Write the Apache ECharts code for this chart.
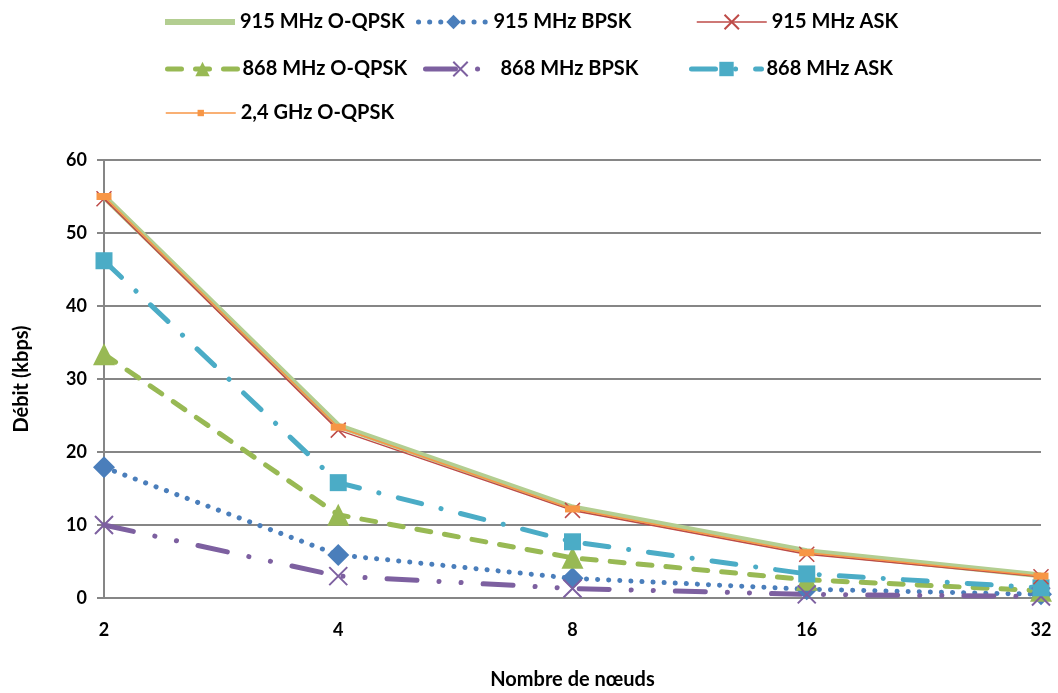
<!DOCTYPE html>
<html>
<head>
<meta charset="utf-8">
<script src="https://cdn.jsdelivr.net/npm/echarts@6/dist/echarts.min.js"></script>
<style>
  html, body { margin: 0; padding: 0; background: #fff; }
  #chart { width: 1058px; height: 693px; }
</style>
</head>
<body>
<div id="chart"></div>
<script>
const nodes = ['2', '4', '8', '16', '32']
const seriesNames = ['915 MHz O-QPSK', '915 MHz BPSK', '915 MHz ASK', '868 MHz O-QPSK', '868 MHz BPSK', '868 MHz ASK', '2,4 GHz O-QPSK']
const qpsk915 = [55, 23.6, 12.4, 6.4, 3.1]
const bpsk915 = [17.9, 5.9, 2.7, 1.2, 0.5]
const ask915 = [54.7, 23.0, 12.0, 6.0, 2.9]
const qpsk868 = [33.4, 11.4, 5.5, 2.5, 1.0]
const bpsk868 = [10.0, 3.0, 1.3, 0.5, 0.2]
const ask868 = [46.2, 15.8, 7.7, 3.3, 1.4]
const qpsk24 = [55, 23.4, 12.2, 6.2, 3.0]

const font = 'Lato, "Open Sans", sans-serif'
const crossPath = 'path://M0,0L10,10M10,0L0,10'

const chart = echarts.init(document.getElementById('chart'))

// one legend per entry so the three columns line up like the original
const legendPos = [
    [160, 7], [411, 7], [691, 7],
    [160, 54], [418, 54], [684, 54],
    [160, 98]
]
const legendLineWidth = [6, 5, 1.5, 5, 5, 5, 1.5]
const legendItemHeight = [6, 18, 18, 18, 18, 18, 8]
const legends = seriesNames.map((name, i) => ({
    data: i === 0 ? [{ name: name, icon: 'rect' }] : [name],
    left: legendPos[i][0],
    top: legendPos[i][1],
    itemWidth: 70,
    itemHeight: legendItemHeight[i],
    itemGap: 0,
    lineStyle: { width: legendLineWidth[i] },
    textStyle: { fontFamily: font, fontWeight: 'bold', fontSize: 20, color: '#000' },
    selectedMode: false
}))

const options = {
    animation: false,
    legend: legends,
    grid: { left: 104, right: 17, top: 160, bottom: 95, outerBoundsMode: 'none' },
    xAxis: {
        type: 'category',
        data: nodes,
        boundaryGap: false,
        name: 'Nombre de nœuds',
        nameLocation: 'middle',
        nameGap: 72,
        nameTextStyle: { fontFamily: font, fontWeight: 'bold', fontSize: 20, color: '#000' },
        axisLine: { lineStyle: { color: '#868686', width: 2 } },
        axisTick: { show: false },
        axisLabel: { fontFamily: font, fontWeight: 'bold', fontSize: 18, color: '#000', margin: 23 }
    },
    yAxis: {
        type: 'value',
        min: 0,
        max: 60,
        interval: 10,
        name: 'Débit (kbps)',
        nameLocation: 'middle',
        nameGap: 72,
        nameTextStyle: { fontFamily: font, fontWeight: 'bold', fontSize: 20, color: '#000' },
        axisLine: { show: true, lineStyle: { color: '#868686', width: 2 } },
        axisTick: { show: true, length: 7, lineStyle: { color: '#868686', width: 2 } },
        axisLabel: { fontFamily: font, fontWeight: 'bold', fontSize: 18, color: '#000', margin: 17 },
        splitLine: { lineStyle: { color: '#868686', width: 2 } }
    },
    series: [
        {
            name: seriesNames[0], type: 'line', data: qpsk915, z: 2,
            symbol: 'none',
            lineStyle: { color: '#B3CE91', width: 6 },
            itemStyle: { color: '#B3CE91' }
        },
        {
            name: seriesNames[1], type: 'line', data: bpsk915, z: 3,
            symbol: 'diamond', symbolSize: 22,
            lineStyle: { color: '#4A7EBB', width: 5, type: [0.1, 11], cap: 'round' },
            itemStyle: { color: '#4A7EBB' }
        },
        {
            name: seriesNames[2], type: 'line', data: ask915, z: 4,
            symbol: crossPath, symbolSize: 15,
            lineStyle: { color: '#BE4B48', width: 1.5 },
            itemStyle: { color: 'transparent', borderColor: '#BE4B48', borderWidth: 1.5 }
        },
        {
            name: seriesNames[3], type: 'line', data: qpsk868, z: 3,
            symbol: 'triangle', symbolSize: 22,
            lineStyle: { color: '#98B954', width: 5, type: [14, 14], cap: 'round' },
            itemStyle: { color: '#98B954' }
        },
        {
            name: seriesNames[4], type: 'line', data: bpsk868, z: 3,
            symbol: crossPath, symbolSize: 18,
            lineStyle: { color: '#7D60A0', width: 5, type: [30, 22, 0.1, 22, 0.1, 22], cap: 'round' },
            itemStyle: { color: 'transparent', borderColor: '#7D60A0', borderWidth: 2 }
        },
        {
            name: seriesNames[5], type: 'line', data: ask868, z: 3,
            symbol: 'rect', symbolSize: 17,
            lineStyle: { color: '#4BACC6', width: 5, type: [24, 20, 0.1, 20], cap: 'round' },
            itemStyle: { color: '#4BACC6' }
        },
        {
            name: seriesNames[6], type: 'line', data: qpsk24, z: 5,
            symbol: 'rect', symbolSize: [15, 7],
            lineStyle: { color: '#F79646', width: 1.5 },
            itemStyle: { color: '#F79646' }
        }
    ]
}

chart.setOption(options)
</script>
</body>
</html>
